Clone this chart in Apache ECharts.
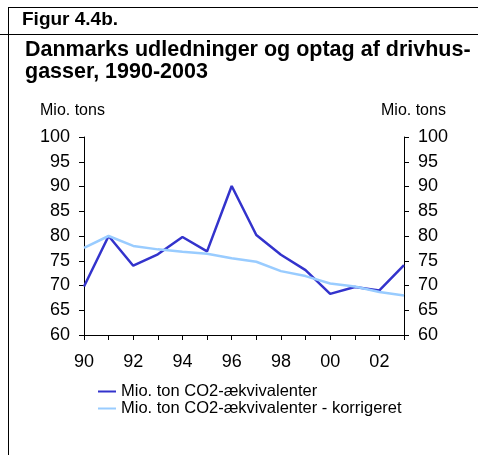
<!DOCTYPE html>
<html>
<head>
<meta charset="utf-8">
<script src="https://cdn.jsdelivr.net/npm/echarts@6/dist/echarts.min.js"></script>
<style>
  html, body { margin: 0; padding: 0; background: #fff; }
  #chart { width: 478px; height: 455px; }
</style>
</head>
<body>
<div id="chart"></div>
<script>
// år og værdier
var years = ['90', '91', '92', '93', '94', '95', '96', '97', '98', '99', '00', '01', '02', '03'];
var udledning = [69.8, 80.0, 74.0, 76.3, 79.8, 76.9, 90.1, 80.2, 76.2, 73.1, 68.3, 69.7, 69.0, 74.1];
var korrigeret = [77.6, 80.0, 78.0, 77.3, 76.8, 76.4, 75.5, 74.8, 72.9, 71.9, 70.4, 69.8, 68.7, 68.0];
var seriesNames = ['Mio. ton CO2-ækvivalenter', 'Mio. ton CO2-ækvivalenter - korrigeret'];

var font = '"Liberation Sans", Arial, sans-serif';
var chart = echarts.init(document.getElementById('chart'));

var yAxisBase = {
    type: 'value',
    min: 60,
    max: 100,
    interval: 5,
    axisLine: { show: true, lineStyle: { color: '#000', width: 1 } },
    axisTick: { show: true, length: 5, lineStyle: { color: '#000' } },
    axisLabel: { color: '#000', fontSize: 18, fontFamily: font, margin: 14 },
    splitLine: { show: false }
};

chart.setOption({
    animation: false,
    textStyle: { fontFamily: font },
    grid: { left: 84, right: 74, top: 137, bottom: 120, containLabel: false },
    xAxis: {
        type: 'category',
        data: years,
        boundaryGap: false,
        axisLine: { lineStyle: { color: '#000', width: 1 } },
        axisTick: { show: true, interval: 0, length: 5, lineStyle: { color: '#000' } },
        axisLabel: { interval: 1, color: '#000', fontSize: 18, fontFamily: font, margin: 18 }
    },
    yAxis: [
        echarts.util.merge({ position: 'left' }, yAxisBase, true),
        echarts.util.merge({ position: 'right' }, yAxisBase, true)
    ],
    legend: {
        orient: 'vertical',
        left: 98,
        top: 383,
        padding: 0,
        itemWidth: 18,
        itemHeight: 2,
        itemGap: 0,
        icon: 'rect',
        textStyle: { color: '#000', fontSize: 16.5, lineHeight: 15, fontFamily: font },
        data: seriesNames
    },
    series: [
        {
            name: seriesNames[0],
            type: 'line',
            data: udledning,
            symbol: 'none',
            color: '#3333CC',
            lineStyle: { color: '#3333CC', width: 2.5 }
        },
        {
            name: seriesNames[1],
            type: 'line',
            data: korrigeret,
            symbol: 'none',
            color: '#99CCFF',
            lineStyle: { color: '#99CCFF', width: 2.5 }
        }
    ],
    graphic: [
        // ramme
        { type: 'line', shape: { x1: 8, y1: 7.5, x2: 478, y2: 7.5 }, style: { stroke: '#000', lineWidth: 1 } },
        { type: 'line', shape: { x1: 0, y1: 34.5, x2: 478, y2: 34.5 }, style: { stroke: '#000', lineWidth: 1 } },
        { type: 'line', shape: { x1: 8.5, y1: 7, x2: 8.5, y2: 455 }, style: { stroke: '#000', lineWidth: 1 } },
        // overskrifter
        { type: 'text', left: 22, top: 10, style: { text: 'Figur 4.4b.', fill: '#000', font: 'bold 19px ' + font } },
        { type: 'text', left: 25, top: 39, style: { text: 'Danmarks udledninger og optag af drivhus-\ngasser, 1990-2003', fill: '#000', font: 'bold 21.5px ' + font, lineHeight: 22 } },
        // enheder
        { type: 'text', left: 40, top: 103, style: { text: 'Mio. tons', fill: '#000', font: '16px ' + font } },
        { type: 'text', left: 381, top: 103, style: { text: 'Mio. tons', fill: '#000', font: '16px ' + font } }
    ]
});
</script>
</body>
</html>
